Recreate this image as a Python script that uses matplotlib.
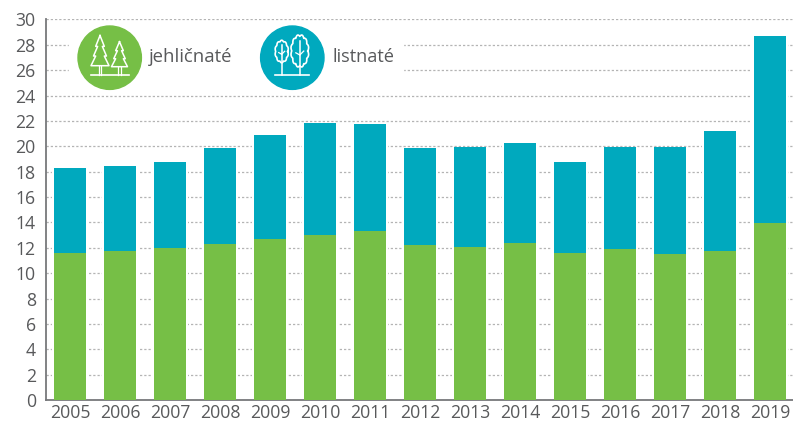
import matplotlib
matplotlib.use("Agg")
import matplotlib.pyplot as plt
import numpy as np
from matplotlib.patches import Circle, Rectangle

years = ["2005", "2006", "2007", "2008", "2009", "2010", "2011", "2012",
         "2013", "2014", "2015", "2016", "2017", "2018", "2019"]
jehlicnate = [11.6, 11.75, 11.95, 12.3, 12.7, 13.0, 13.35, 12.25,
              12.1, 12.4, 11.6, 11.9, 11.5, 11.75, 13.95]
listnate = [6.7, 6.7, 6.85, 7.6, 8.2, 8.85, 8.45, 7.65,
            7.85, 7.9, 7.2, 8.05, 8.45, 9.45, 14.75]
yticks = list(range(0, 31, 2))

GREEN = "#76BF46"
TEAL = "#00A9BE"
GREY = "#58595B"

plt.rcParams["font.family"] = "Open Sans"

W, H = 793, 423
fig = plt.figure(figsize=(W / 100, H / 100), dpi=100)
ax = fig.add_axes([45.5 / W, 1 - 400 / H, (W - 45.5) / W, 380.5 / H])

x = list(range(len(years)))
totals = [a + b for a, b in zip(jehlicnate, listnate)]
# white halo, the grid stops just short of the bars
ax.bar(x, totals, width=0.72, color="white", zorder=2)
ax.bar(x, jehlicnate, width=0.64, color=GREEN, zorder=3)
ax.bar(x, listnate, width=0.64, bottom=jehlicnate, color=TEAL, zorder=3)

ax.set_xlim(-0.49, 14.46)
ax.set_ylim(0, 30)
ax.set_xticks(x, years)
ax.set_yticks(yticks)
ax.tick_params(length=0, labelsize=12.7, colors=GREY)
ax.tick_params(axis="x", pad=3)
ax.tick_params(axis="y", pad=7)
ax.grid(axis="y", color="#B4B4B4", linestyle=(0, (1.8, 1.6)), linewidth=0.9, zorder=1)
for side in ["top", "right"]:
    ax.spines[side].set_visible(False)
for side in ["left", "bottom"]:
    ax.spines[side].set_color("#77787B")
    ax.spines[side].set_linewidth(1.3)

# legend icons, in pixel coordinates of the picture
ov = fig.add_axes([0, 0, 1, 1], facecolor="none")
ov.set_xlim(0, W)
ov.set_ylim(H, 0)
ov.axis("off")
ov.add_patch(Rectangle((69, 30), 334, 50, color="white", zorder=1))
ov.add_patch(Circle((109.7, 57.7), 31.7, color=GREEN, zorder=2))
ov.add_patch(Circle((292.3, 57.7), 31.7, color=TEAL, zorder=2))


def conifer(cx, top, bottom, w):
    xs = [0, .48, .26, .72, .48, 1.0, 0]
    ys = [0, .36, .36, .68, .68, 1.0, 1.0]
    h = bottom - top
    left = [cx - v * w / 2 for v in xs]
    right = [cx + v * w / 2 for v in xs]
    yy = [top + v * h for v in ys]
    ov.plot(left + right[::-1], yy + yy[::-1], color="white", lw=1.1, zorder=3)
    for dx in (-1.2, 1.2):
        ov.plot([cx + dx, cx + dx], [bottom, 75], color="white", lw=0.9, zorder=3)


def leafy(cx, cy, rx, ry, lobes):
    t = np.linspace(0, 2 * np.pi, 300)
    bump = 1 + 0.13 * np.abs(np.sin(lobes * t / 2))
    ov.plot(cx + rx * bump * np.cos(t) / 1.1, cy + ry * bump * np.sin(t) / 1.1,
            color="white", lw=1.2, zorder=3)
    ov.plot([cx, cx], [cy - ry * 0.6, 75], color="white", lw=1.1, zorder=3)
    for s in (-1, 1):
        ov.plot([cx, cx + s * rx * 0.45], [cy + ry * 0.25, cy + ry * 0.25 - s * rx * 0.1 - rx * 0.35],
                color="white", lw=0.9, zorder=3)


conifer(100, 35.5, 65.7, 18)
conifer(119.5, 41.7, 66.7, 16)
ov.plot([91, 129], [75.3, 75.3], color="white", lw=1.2, zorder=3)

leafy(281.7, 51.5, 6.6, 11, 10)
leafy(299.8, 51, 8.8, 16, 12)
ov.plot([275, 309], [75.3, 75.3], color="white", lw=1.2, zorder=3)

ov.text(149, 57, "jehličnaté", fontsize=13.3, color=GREY, va="center", zorder=3)
ov.text(332, 57, "listnaté", fontsize=13.1, color=GREY, va="center", zorder=3)

fig.savefig("out.png", dpi=100)
